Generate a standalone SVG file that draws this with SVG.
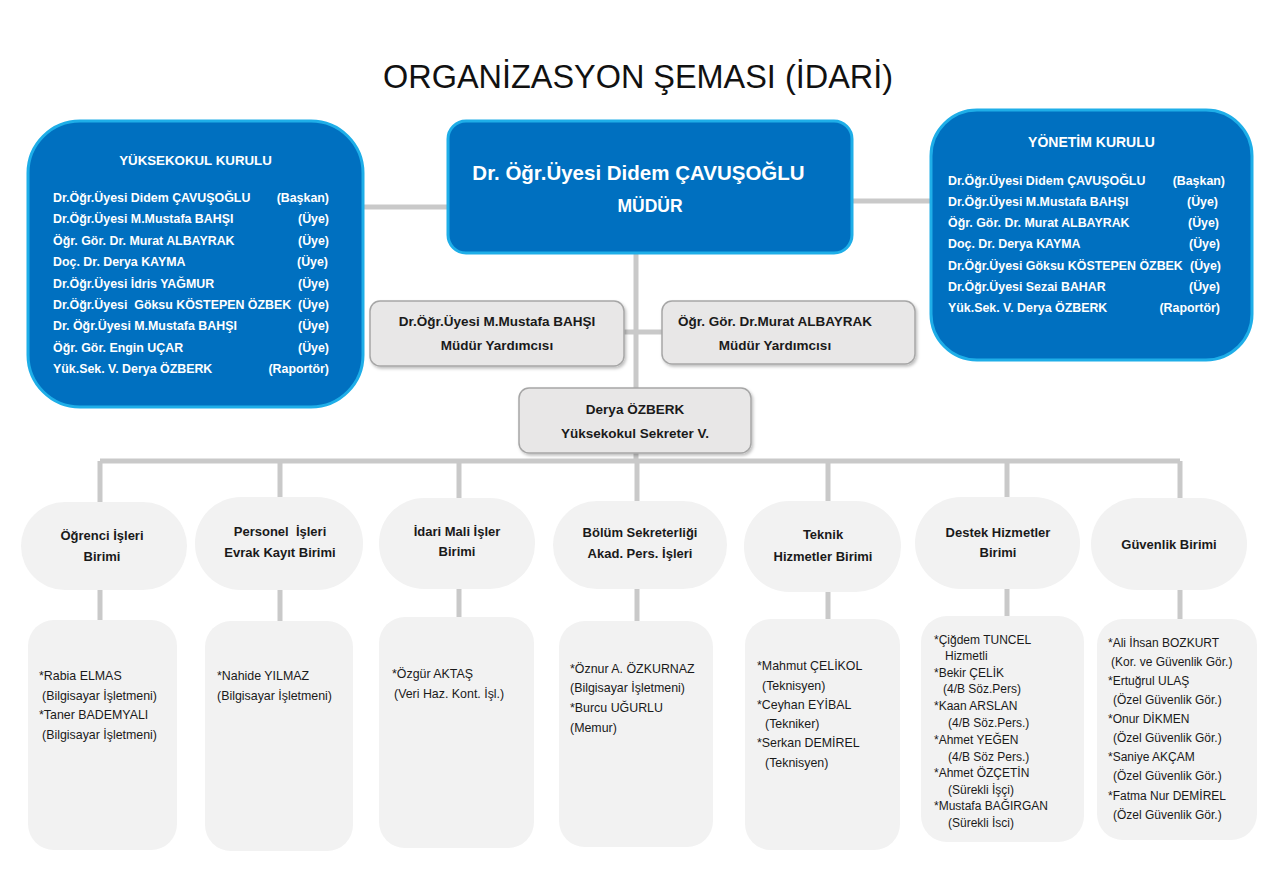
<svg xmlns="http://www.w3.org/2000/svg" width="1276" height="894" viewBox="0 0 1276 894">
<style>
text{font-family:"Liberation Sans",Arial,sans-serif;}
.blue{fill:#0070C0;stroke:#1EAEE8;stroke-width:3;}
.gbox{fill:#E8E7E7;stroke:#A6A6A6;stroke-width:1.5;}
.unit{fill:#F2F2F2;}
.wt{fill:#FFFFFF;font-weight:bold;font-size:12.4px;}
.wr{fill:#FFFFFF;font-weight:bold;font-size:12.4px;text-anchor:end;}
.ht{fill:#FFFFFF;font-weight:bold;text-anchor:middle;}
.bt{fill:#1A1A1A;font-weight:bold;font-size:13px;text-anchor:middle;}
.gt{fill:#1A1A1A;font-weight:bold;font-size:13.5px;text-anchor:middle;}
.lt{fill:#1A1A1A;font-size:12.4px;}
.st{fill:#1A1A1A;font-size:12px;}
.con{stroke:#C9C9C9;stroke-width:5;fill:none;}
</style>
<defs>
<filter id="sh" x="-10%" y="-10%" width="130%" height="140%">
<feDropShadow dx="1.5" dy="2" stdDeviation="1.5" flood-color="#000" flood-opacity="0.25"/>
</filter>
</defs>
<rect width="1276" height="894" fill="#FFFFFF"/>
<text x="638" y="88" font-size="34" text-anchor="middle" textLength="510" lengthAdjust="spacingAndGlyphs" fill="#111">ORGANİZASYON ŞEMASI (İDARİ)</text>

<g id="connectors">
<path class="con" d="M363 207H448 M852 201H931 M636 253V461 M624 332H662 M100 461H1180 M100 461V502 M280 461V497 M459 461V498 M637 461V501 M828 461V501 M1007 461V497 M1180 461V498 M100 590V620 M280 590V621 M459 589V617 M637 589V621 M828 592V619 M1007 589V616 M1180 590V619"/>
</g>

<g id="yuksekokul-kurulu">
<rect class="blue" x="28" y="121" width="335" height="286" rx="52"/>
<text class="ht" x="195.5" y="165" font-size="13.3">YÜKSEKOKUL KURULU</text>
<text class="wt" x="53" y="202">Dr.Öğr.Üyesi Didem ÇAVUŞOĞLU</text><text class="wr" x="329" y="202">(Başkan)</text>
<text class="wt" x="53" y="223">Dr.Öğr.Üyesi M.Mustafa BAHŞI</text><text class="wr" x="329" y="223">(Üye)</text>
<text class="wt" x="53" y="245">Öğr. Gör. Dr. Murat ALBAYRAK</text><text class="wr" x="329" y="245">(Üye)</text>
<text class="wt" x="53" y="266">Doç. Dr. Derya KAYMA</text><text class="wr" x="328" y="266">(Üye)</text>
<text class="wt" x="53" y="288">Dr.Öğr.Üyesi İdris YAĞMUR</text><text class="wr" x="329" y="288">(Üye)</text>
<text class="wt" x="53" y="309" xml:space="preserve">Dr.Öğr.Üyesi  Göksu KÖSTEPEN ÖZBEK</text><text class="wr" x="329" y="309">(Üye)</text>
<text class="wt" x="53" y="330">Dr. Öğr.Üyesi M.Mustafa BAHŞI</text><text class="wr" x="329" y="330">(Üye)</text>
<text class="wt" x="53" y="352">Öğr. Gör. Engin UÇAR</text><text class="wr" x="329" y="352">(Üye)</text>
<text class="wt" x="53" y="373">Yük.Sek. V. Derya ÖZBERK</text><text class="wr" x="329" y="373">(Raportör)</text>
</g>

<g id="mudur">
<rect class="blue" x="448" y="121" width="404" height="132" rx="18"/>
<text class="ht" x="638.5" y="180" font-size="20.5">Dr. Öğr.Üyesi Didem ÇAVUŞOĞLU</text>
<text class="ht" x="650" y="212" font-size="17.5">MÜDÜR</text>
</g>

<g id="yonetim-kurulu">
<rect class="blue" x="931" y="110" width="321" height="250" rx="46"/>
<text class="ht" x="1091.5" y="147" font-size="14">YÖNETİM KURULU</text>
<text class="wt" x="948" y="185">Dr.Öğr.Üyesi Didem ÇAVUŞOĞLU</text><text class="wr" x="1225" y="185">(Başkan)</text>
<text class="wt" x="948" y="206">Dr.Öğr.Üyesi M.Mustafa BAHŞI</text><text class="wr" x="1218" y="206">(Üye)</text>
<text class="wt" x="948" y="227">Öğr. Gör. Dr. Murat ALBAYRAK</text><text class="wr" x="1219" y="227">(Üye)</text>
<text class="wt" x="948" y="248">Doç. Dr. Derya KAYMA</text><text class="wr" x="1220" y="248">(Üye)</text>
<text class="wt" x="948" y="270">Dr.Öğr.Üyesi Göksu KÖSTEPEN ÖZBEK</text><text class="wr" x="1221" y="270">(Üye)</text>
<text class="wt" x="948" y="291">Dr.Öğr.Üyesi Sezai BAHAR</text><text class="wr" x="1220" y="291">(Üye)</text>
<text class="wt" x="948" y="312">Yük.Sek. V. Derya ÖZBERK</text><text class="wr" x="1220" y="312">(Raportör)</text>
</g>

<g id="mudur-yrd-1">
<rect class="gbox" x="370" y="301" width="254" height="65" rx="10" filter="url(#sh)"/>
<text class="gt" x="497" y="326">Dr.Öğr.Üyesi M.Mustafa BAHŞI</text>
<text class="gt" x="497" y="350">Müdür Yardımcısı</text>
</g>

<g id="mudur-yrd-2">
<rect class="gbox" x="662" y="301" width="253" height="63" rx="10" filter="url(#sh)"/>
<text class="gt" x="775" y="326">Öğr. Gör. Dr.Murat ALBAYRAK</text>
<text class="gt" x="775" y="350">Müdür Yardımcısı</text>
</g>

<g id="sekreter">
<rect class="gbox" x="519" y="388" width="232" height="65" rx="10" filter="url(#sh)"/>
<text class="gt" x="635" y="414">Derya ÖZBERK</text>
<text class="gt" x="635" y="438">Yüksekokul Sekreter V.</text>
</g>

<g id="ogrenci-isleri">
<rect class="unit" x="21" y="502" width="166" height="88" rx="44"/>
<text class="bt" x="102" y="540">Öğrenci İşleri</text>
<text class="bt" x="102" y="561">Birimi</text>
<rect class="unit" x="28" y="620" width="149" height="230" rx="26"/>
<text class="lt" x="39" y="680">*Rabia ELMAS</text>
<text class="lt" x="42" y="700">(Bilgisayar İşletmeni)</text>
<text class="lt" x="39" y="719">*Taner BADEMYALI</text>
<text class="lt" x="42" y="739">(Bilgisayar İşletmeni)</text>
</g>

<g id="personel-isleri">
<rect class="unit" x="195" y="497" width="168" height="93" rx="46"/>
<text class="bt" x="280" y="536" xml:space="preserve">Personel  İşleri</text>
<text class="bt" x="280" y="557">Evrak Kayıt Birimi</text>
<rect class="unit" x="205" y="621" width="148" height="230" rx="26"/>
<text class="lt" x="217" y="680">*Nahide YILMAZ</text>
<text class="lt" x="217" y="700">(Bilgisayar İşletmeni)</text>
</g>

<g id="idari-mali">
<rect class="unit" x="379" y="498" width="156" height="91" rx="45"/>
<text class="bt" x="457" y="536">İdari Mali İşler</text>
<text class="bt" x="457" y="556">Birimi</text>
<rect class="unit" x="379" y="617" width="155" height="231" rx="26"/>
<text class="lt" x="392" y="678">*Özgür AKTAŞ</text>
<text class="lt" x="394" y="698">(Veri Haz. Kont. İşl.)</text>
</g>

<g id="bolum-sekreterligi">
<rect class="unit" x="553" y="501" width="174" height="88" rx="44"/>
<text class="bt" x="640" y="537">Bölüm Sekreterliği</text>
<text class="bt" x="640" y="558">Akad. Pers. İşleri</text>
<rect class="unit" x="559" y="621" width="154" height="226" rx="26"/>
<text class="lt" x="570" y="673">*Öznur A. ÖZKURNAZ</text>
<text class="lt" x="570" y="692">(Bilgisayar İşletmeni)</text>
<text class="lt" x="570" y="712">*Burcu UĞURLU</text>
<text class="lt" x="570" y="732">(Memur)</text>
</g>

<g id="teknik-hizmetler">
<rect class="unit" x="744" y="501" width="157" height="91" rx="45"/>
<text class="bt" x="823" y="539">Teknik</text>
<text class="bt" x="823" y="561">Hizmetler Birimi</text>
<rect class="unit" x="745" y="619" width="155" height="231" rx="26"/>
<text class="lt" x="757" y="670">*Mahmut ÇELİKOL</text>
<text class="lt" x="762" y="690">(Teknisyen)</text>
<text class="lt" x="757" y="709">*Ceyhan EYİBAL</text>
<text class="lt" x="765" y="728">(Tekniker)</text>
<text class="lt" x="757" y="747">*Serkan DEMİREL</text>
<text class="lt" x="765" y="767">(Teknisyen)</text>
</g>

<g id="destek-hizmetler">
<rect class="unit" x="915" y="497" width="165" height="92" rx="46"/>
<text class="bt" x="998" y="537">Destek Hizmetler</text>
<text class="bt" x="998" y="557">Birimi</text>
<rect class="unit" x="921" y="616" width="163" height="226" rx="26"/>
<text class="st" x="934" y="644">*Çiğdem TUNCEL</text>
<text class="st" x="945" y="660">Hizmetli</text>
<text class="st" x="934" y="677">*Bekir ÇELİK</text>
<text class="st" x="943" y="693">(4/B Söz.Pers)</text>
<text class="st" x="934" y="710">*Kaan ARSLAN</text>
<text class="st" x="948" y="727">(4/B Söz.Pers.)</text>
<text class="st" x="934" y="744">*Ahmet YEĞEN</text>
<text class="st" x="948" y="761">(4/B Söz Pers.)</text>
<text class="st" x="934" y="777">*Ahmet ÖZÇETİN</text>
<text class="st" x="948" y="794">(Sürekli İşçi)</text>
<text class="st" x="934" y="810">*Mustafa BAĞIRGAN</text>
<text class="st" x="948" y="827">(Sürekli İsci)</text>
</g>

<g id="guvenlik">
<rect class="unit" x="1091" y="498" width="156" height="92" rx="46"/>
<text class="bt" x="1169" y="549">Güvenlik Birimi</text>
<rect class="unit" x="1097" y="619" width="160" height="221" rx="26"/>
<text class="st" x="1108" y="647">*Ali İhsan BOZKURT</text>
<text class="st" x="1111" y="666">(Kor. ve Güvenlik Gör.)</text>
<text class="st" x="1108" y="685">*Ertuğrul ULAŞ</text>
<text class="st" x="1113" y="704">(Özel Güvenlik Gör.)</text>
<text class="st" x="1108" y="723">*Onur DİKMEN</text>
<text class="st" x="1113" y="742">(Özel Güvenlik Gör.)</text>
<text class="st" x="1108" y="761">*Saniye AKÇAM</text>
<text class="st" x="1113" y="780">(Özel Güvenlik Gör.)</text>
<text class="st" x="1108" y="800">*Fatma Nur DEMİREL</text>
<text class="st" x="1113" y="819">(Özel Güvenlik Gör.)</text>
</g>
</svg>
